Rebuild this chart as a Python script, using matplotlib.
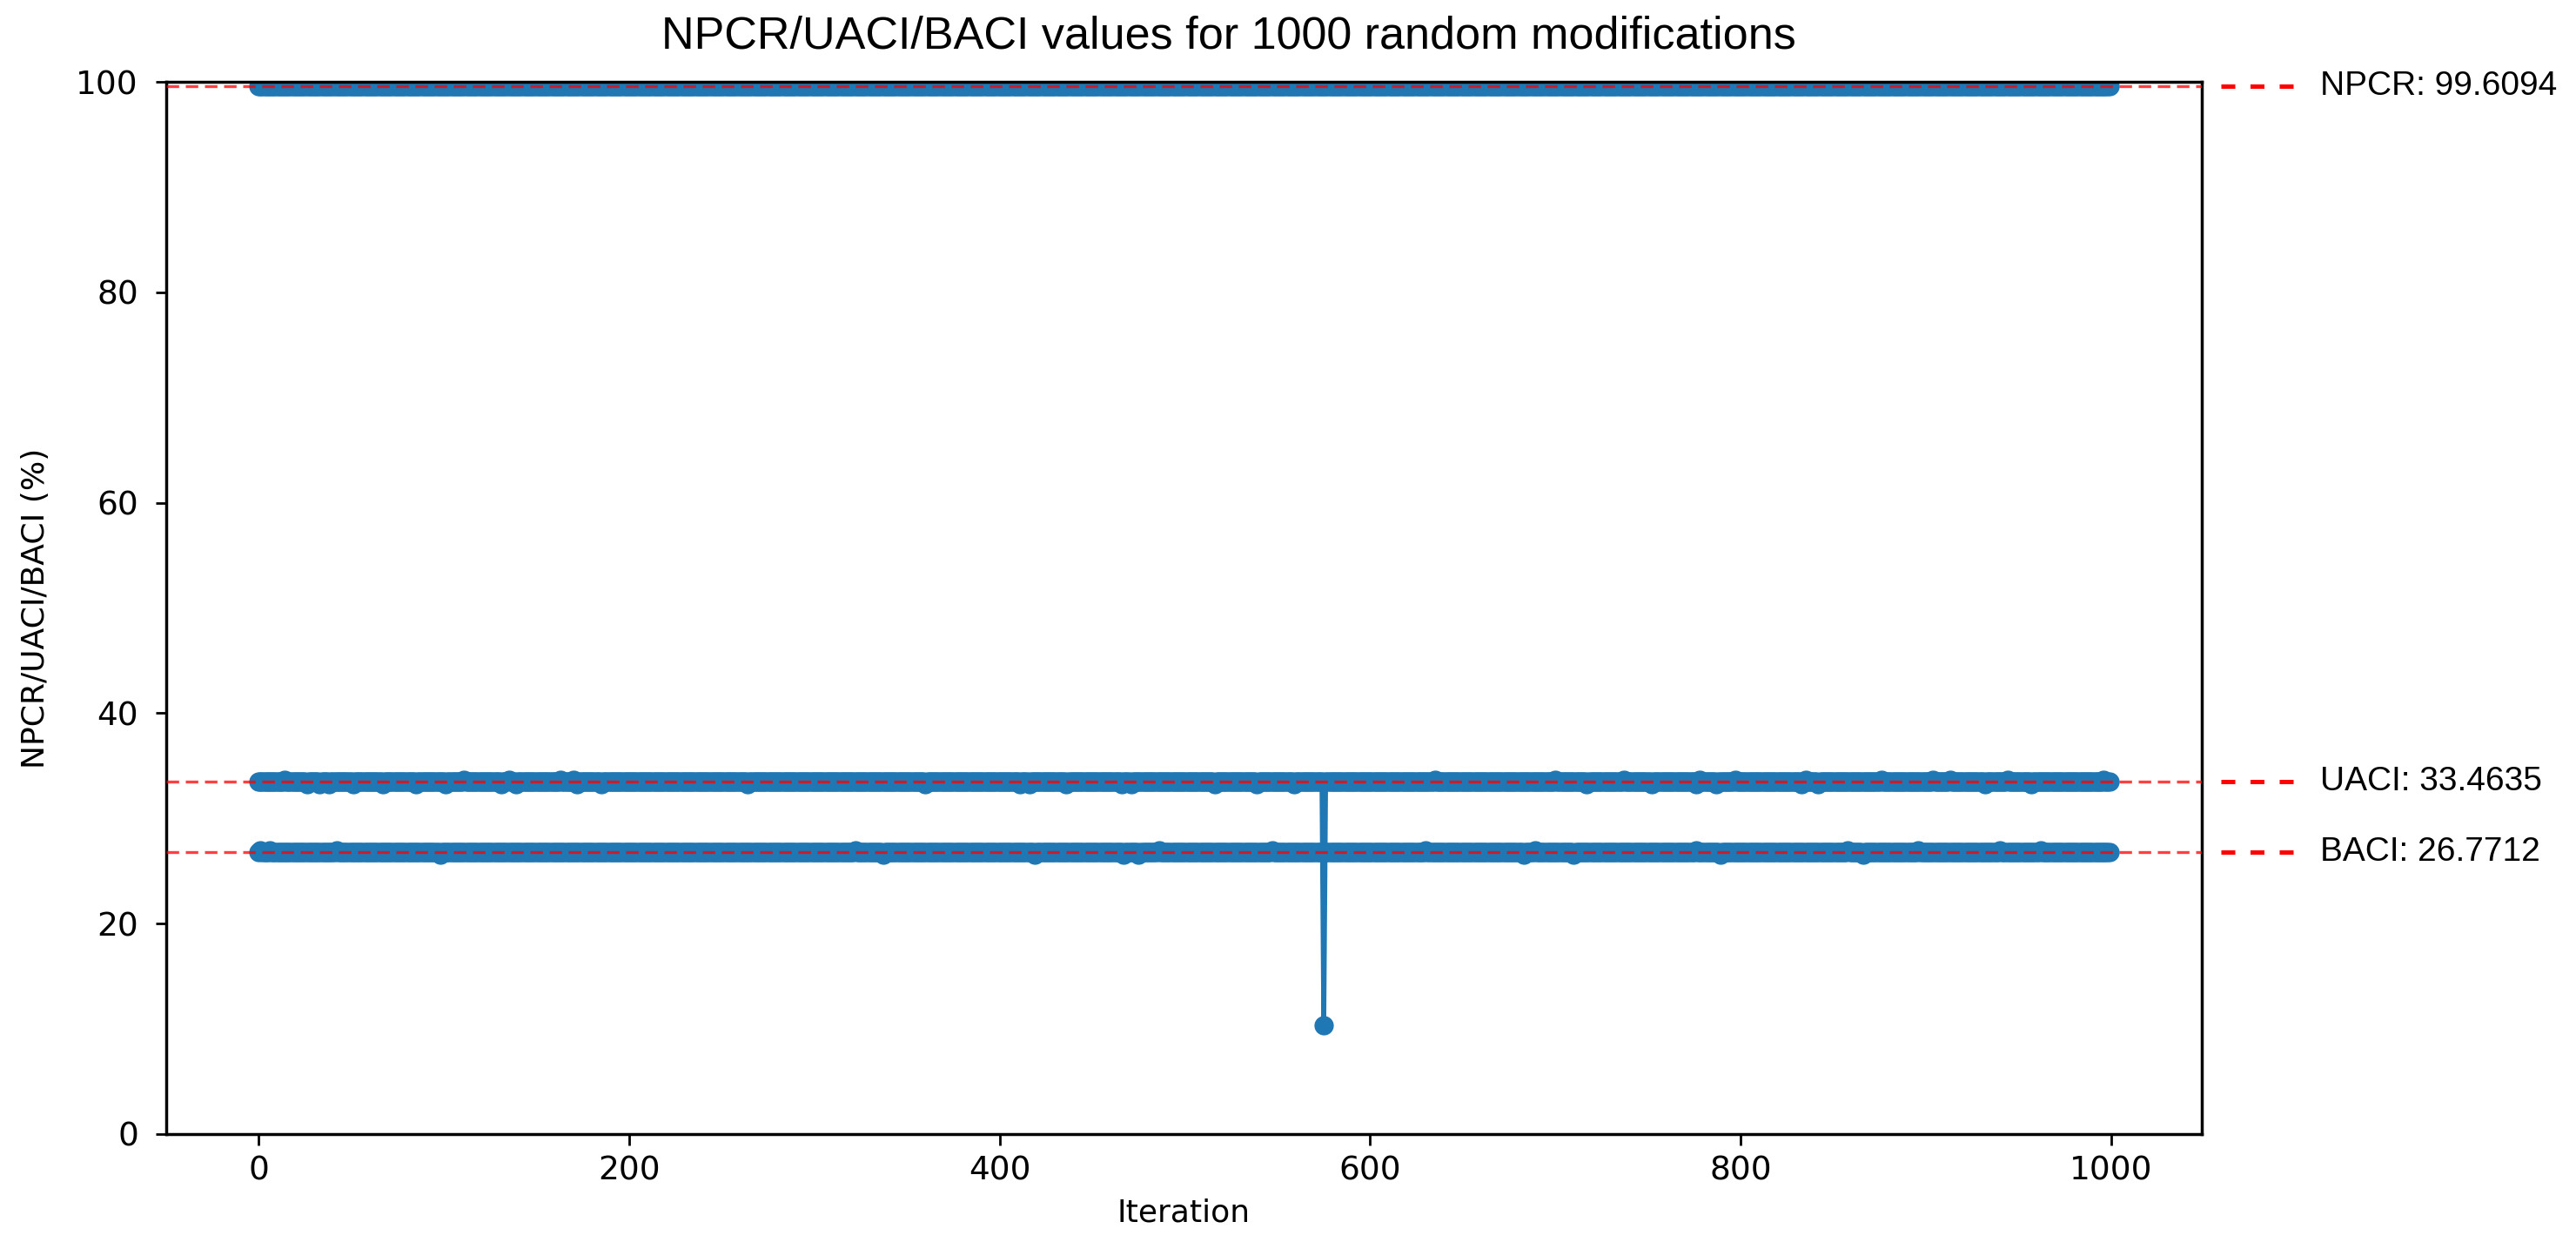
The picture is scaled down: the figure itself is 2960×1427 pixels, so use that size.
import matplotlib
matplotlib.use("Agg")
import matplotlib.pyplot as plt
import matplotlib.transforms as mtransforms
import numpy as np

# ---------------------------------------------------------------------------
# Data: three flat series with a few small bumps
# ---------------------------------------------------------------------------
N_ITER = 1000

NPCR_LEVEL = 99.61
UACI_LEVEL = 33.47
BACI_LEVEL = 26.78
BUMP = 0.2  # size of the small visible wiggles (%)

UACI_UP = [14, 111, 135, 163, 170, 635, 700, 737, 778, 797, 835, 876,
           904, 913, 944, 996]
UACI_DOWN = [26, 33, 38, 51, 67, 85, 101, 131, 139, 172, 185, 264, 360,
             411, 416, 436, 466, 471, 516, 539, 559, 717, 752, 776, 787,
             833, 842, 932, 957]
BACI_UP = [1, 6, 42, 322, 486, 547, 630, 689, 776, 858, 896, 940, 962]
BACI_DOWN = [98, 337, 419, 467, 475, 683, 710, 789, 866]

UACI_DIP_AT = 575
UACI_DIP_VALUE = 10.3

MEAN_NAMES = ["NPCR", "UACI", "BACI"]
MEAN_VALUES = [99.6094, 33.4635, 26.7712]

BLUE = "#1f77b4"


def build_series(level, up, down):
    s = np.full(N_ITER, level)
    s[up] += BUMP
    s[down] -= BUMP
    return s


iters = np.arange(N_ITER)
npcr = np.full(N_ITER, NPCR_LEVEL)
uaci = build_series(UACI_LEVEL, UACI_UP, UACI_DOWN)
uaci[UACI_DIP_AT] = UACI_DIP_VALUE
baci = build_series(BACI_LEVEL, BACI_UP, BACI_DOWN)

# ---------------------------------------------------------------------------
# Plot
# ---------------------------------------------------------------------------
fig = plt.figure(figsize=(29.6, 14.27), dpi=100)
ax = fig.add_axes([0.0645, 0.0869, 0.7902, 0.8472])

for series in (npcr, uaci, baci):
    ax.plot(iters, series, marker="o", color=BLUE, lw=4, ms=15, zorder=2)

for v in MEAN_VALUES:
    ax.axhline(v, color="red", ls=(0, (4.3, 2.3)), lw=2.4, alpha=0.75, zorder=3)

# mean labels to the right of the axes
trans = mtransforms.blended_transform_factory(ax.transAxes, ax.transData)
for name, v in zip(MEAN_NAMES, MEAN_VALUES):
    ax.plot([1.0094, 1.045], [v, v], transform=trans, clip_on=False,
            color="red", lw=3.6, ls=(0, (3.2, 3.5)))
    ax.text(1.0582, v, f"{name}: {v:.4f}", transform=trans, ha="left",
            va="center", fontsize=28, family="Liberation Sans")

ax.set_ylim(0, 100)
ax.set_yticks([0, 20, 40, 60, 80, 100])
ax.set_xticks([0, 200, 400, 600, 800, 1000])

for side in ax.spines.values():
    side.set_linewidth(2.5)
ax.tick_params(axis="both", labelsize=27, length=9, width=2)
ax.tick_params(axis="x", pad=9)
ax.tick_params(axis="y", pad=14)

ax.set_xlabel("Iteration", fontsize=26)
ax.set_ylabel("NPCR/UACI/BACI (%)", fontsize=26)
ax.xaxis.set_label_coords(0.5, -0.061)
ax.yaxis.set_label_coords(-0.057, 0.5)

fig.text(0.477, 0.9706, "NPCR/UACI/BACI values for 1000 random modifications",
         ha="center", va="center", fontsize=37.5, family="Liberation Sans")

fig.savefig("out.png", dpi=100)
